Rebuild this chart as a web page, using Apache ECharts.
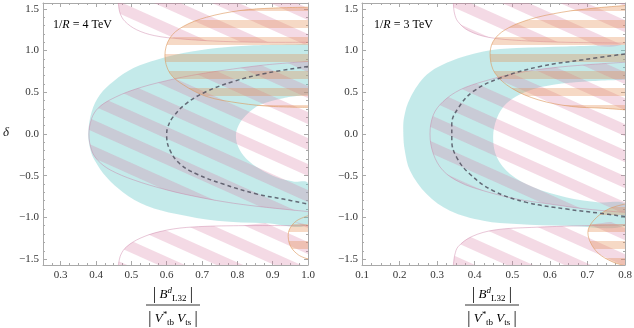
<!DOCTYPE html>
<html>
<head>
<meta charset="utf-8">
<script src="https://cdn.jsdelivr.net/npm/echarts@6.0.0/dist/echarts.min.js"></script>
<style>
html, body { margin: 0; padding: 0; background: #fff; }
#chart { width: 634px; height: 328px; }
</style>
</head>
<body>
<div id="chart"></div>
<script>
// delta runs from -pi/2 to pi/2
const deltaMin = -1.5708, deltaMax = 1.5708;
const yMajor = [-1.5, -1.0, -0.5, 0.0, 0.5, 1.0, 1.5];
const xMajorL = [0.3, 0.4, 0.5, 0.6, 0.7, 0.8, 0.9, 1.0];
const xMajorR = [0.1, 0.2, 0.3, 0.4, 0.5, 0.6, 0.7, 0.8];

// ---- 1/R = 4 TeV (left) ----
const cyanL = [[1.0,1.075],[0.836,1.06],[0.742,1.03],[0.647,0.97],[0.572,0.89],[0.506,0.79],[0.449,0.63],[0.411,0.47],[0.388,0.27],[0.378,0.0],[0.385,-0.2],[0.397,-0.32],[0.43,-0.52],[0.477,-0.7],[0.543,-0.86],[0.628,-0.96],[0.742,-1.04],[0.883,-1.07],[1.0,-1.08],
  [1.0,-0.59],[0.958,-0.57],[0.911,-0.52],[0.864,-0.42],[0.826,-0.3],[0.803,-0.16],[0.796,-0.02],[0.803,0.1],[0.826,0.23],[0.864,0.35],[0.93,0.43],[1.0,0.47]];
const pinkMidL = [[1.0,0.87],[0.883,0.83],[0.789,0.78],[0.694,0.72],[0.6,0.64],[0.506,0.53],[0.44,0.41],[0.406,0.31],[0.388,0.19],[0.38,0.0],[0.388,-0.2],[0.406,-0.32],[0.44,-0.43],[0.506,-0.55],[0.6,-0.67],[0.694,-0.76],[0.789,-0.83],[0.883,-0.88],[1.0,-0.93]];
const pinkTopL = [[0.463,1.58],[0.468,1.45],[0.482,1.35],[0.515,1.25],[0.565,1.18],[0.64,1.14],[0.76,1.11],[0.88,1.1],[1.0,1.1],[1.0,1.58]];
const pinkBotL = [[0.463,-1.58],[0.47,-1.45],[0.487,-1.35],[0.525,-1.25],[0.581,-1.17],[0.657,-1.12],[0.789,-1.1],[1.0,-1.1],[1.0,-1.58]];
const orangeTopL = [[1.0,1.52],[0.902,1.51],[0.807,1.48],[0.713,1.4],[0.647,1.29],[0.609,1.15],[0.595,0.94],[0.609,0.73],[0.647,0.59],[0.713,0.45],[0.807,0.37],[0.902,0.33],[1.0,0.32]];
const orangeBotL = [[1.0,-0.98],[0.968,-1.04],[0.949,-1.13],[0.944,-1.23],[0.951,-1.35],[0.973,-1.45],[1.0,-1.5]];
const dashedL = [[1.0,0.81],[0.883,0.73],[0.789,0.63],[0.713,0.51],[0.657,0.37],[0.619,0.21],[0.603,0.08],[0.6,-0.02],[0.61,-0.2],[0.638,-0.36],[0.685,-0.48],[0.76,-0.6],[0.855,-0.72],[0.93,-0.78],[1.0,-0.84]];

// ---- 1/R = 3 TeV (right) ----
const cyanR = [[0.8,1.07],[0.645,1.05],[0.512,1.03],[0.423,0.99],[0.334,0.87],[0.272,0.71],[0.228,0.43],[0.212,0.2],[0.21,0.0],[0.214,-0.2],[0.228,-0.44],[0.272,-0.72],[0.334,-0.92],[0.423,-1.04],[0.512,-1.08],[0.645,-1.1],[0.8,-1.1],
  [0.8,-0.84],[0.733,-0.82],[0.645,-0.76],[0.556,-0.64],[0.494,-0.48],[0.459,-0.28],[0.449,-0.04],[0.459,0.19],[0.485,0.37],[0.538,0.51],[0.609,0.59],[0.698,0.63],[0.8,0.65]];
const pinkMidR = [[0.8,0.86],[0.698,0.83],[0.6,0.79],[0.512,0.73],[0.423,0.63],[0.361,0.53],[0.316,0.39],[0.29,0.23],[0.281,0.0],[0.29,-0.24],[0.316,-0.44],[0.361,-0.58],[0.423,-0.68],[0.512,-0.78],[0.6,-0.84],[0.698,-0.9],[0.8,-0.94]];
const pinkTopR = [[0.343,1.58],[0.346,1.45],[0.355,1.35],[0.383,1.24],[0.436,1.16],[0.525,1.12],[0.64,1.1],[0.8,1.09],[0.8,1.58]];
const pinkBotR = [[0.343,-1.58],[0.347,-1.45],[0.356,-1.35],[0.392,-1.23],[0.454,-1.15],[0.552,-1.12],[0.685,-1.1],[0.8,-1.09],[0.8,-1.58]];
const orangeTopR = [[0.8,1.54],[0.72,1.51],[0.632,1.46],[0.543,1.37],[0.481,1.25],[0.449,1.11],[0.441,0.93],[0.454,0.73],[0.498,0.55],[0.569,0.41],[0.658,0.33],[0.738,0.31],[0.8,0.29]];
const orangeBotR = [[0.8,-0.84],[0.756,-0.9],[0.72,-1.02],[0.702,-1.15],[0.707,-1.29],[0.729,-1.43],[0.765,-1.53],[0.8,-1.58]];
const dashedR = [[0.8,0.96],[0.689,0.89],[0.574,0.81],[0.467,0.67],[0.396,0.51],[0.356,0.31],[0.339,0.12],[0.339,-0.08],[0.352,-0.28],[0.387,-0.48],[0.449,-0.68],[0.538,-0.82],[0.645,-0.9],[0.733,-0.95],[0.8,-0.99]];

const frame = '#a9a9a9';
const serif = 'Liberation Serif';

function minorTicks(lo, hi, step, majors) {
  const out = [];
  for (let v = lo; v <= hi + 1e-9; v += step) {
    const r = Math.round(v * 1000) / 1000;
    if (!majors.some(m => Math.abs(m - r) < 1e-6)) out.push(r);
  }
  return out;
}
function fmt(v) { return (v < 0 ? '\u2212' : '') + Math.abs(v).toFixed(1); }

// stripe tiles used as fill patterns
function stripeTile(w, h, band, color, diagonal) {
  const c = document.createElement('canvas');
  c.width = w; c.height = h;
  const ctx = c.getContext('2d');
  ctx.fillStyle = color;
  if (!diagonal) {
    ctx.fillRect(0, 3, w, band);
  } else {
    for (let k = -1; k <= 1; k++) {
      ctx.beginPath();
      ctx.moveTo(0, k * h);
      ctx.lineTo(w, k * h + h);
      ctx.lineTo(w, k * h + h + band);
      ctx.lineTo(0, k * h + band);
      ctx.closePath();
      ctx.fill();
    }
  }
  return { image: c, repeat: 'repeat' };
}
const pinkFill = stripeTile(58, 26, 12, 'rgba(215,120,160,0.27)', true);
const orangeFill = stripeTile(8, 17, 8, 'rgba(228,140,80,0.33)', false);
const cyanFill = 'rgba(100,200,200,0.38)';
const pinkLine = 'rgba(200,120,160,0.42)';
const orangeLine = 'rgba(220,150,90,0.6)';

function xAxes(g, min, max, majors) {
  const minors = minorTicks(min, max, 0.025, majors);
  const base = { gridIndex: g, type: 'value', min: min, max: max, splitLine: { show: false } };
  const line = { show: true, onZero: false, lineStyle: { color: frame } };
  return [
    Object.assign({}, base, { position: 'bottom', axisLine: line,
      axisTick: { show: true, inside: true, length: 4, customValues: majors, lineStyle: { color: frame } },
      axisLabel: { show: true, customValues: majors, formatter: fmt, margin: 5, color: '#333', fontFamily: serif, fontSize: 11 } }),
    Object.assign({}, base, { position: 'bottom', axisLine: { show: false, onZero: false },
      axisTick: { show: true, inside: true, length: 2, customValues: minors, lineStyle: { color: frame } }, axisLabel: { show: false } }),
    Object.assign({}, base, { position: 'top', axisLine: line,
      axisTick: { show: true, inside: true, length: 4, customValues: majors, lineStyle: { color: frame } }, axisLabel: { show: false } }),
    Object.assign({}, base, { position: 'top', axisLine: { show: false, onZero: false },
      axisTick: { show: true, inside: true, length: 2, customValues: minors, lineStyle: { color: frame } }, axisLabel: { show: false } })
  ];
}
function yAxes(g) {
  const minors = minorTicks(-1.5, 1.5, 0.1, yMajor);
  const base = { gridIndex: g, type: 'value', min: deltaMin, max: deltaMax, splitLine: { show: false } };
  const line = { show: true, onZero: false, lineStyle: { color: frame } };
  return [
    Object.assign({}, base, { position: 'left', axisLine: line,
      axisTick: { show: true, inside: true, length: 4, customValues: yMajor, lineStyle: { color: frame } },
      axisLabel: { show: true, customValues: yMajor, formatter: fmt, margin: 4, color: '#333', fontFamily: serif, fontSize: 11 } }),
    Object.assign({}, base, { position: 'left', axisLine: { show: false, onZero: false },
      axisTick: { show: true, inside: true, length: 2, customValues: minors, lineStyle: { color: frame } }, axisLabel: { show: false } }),
    Object.assign({}, base, { position: 'right', axisLine: line,
      axisTick: { show: true, inside: true, length: 4, customValues: yMajor, lineStyle: { color: frame } }, axisLabel: { show: false } }),
    Object.assign({}, base, { position: 'right', axisLine: { show: false, onZero: false },
      axisTick: { show: true, inside: true, length: 2, customValues: minors, lineStyle: { color: frame } }, axisLabel: { show: false } })
  ];
}

// one closed region drawn from its boundary points
function region(ax, pts, fill, stroke, nOutline) {
  return {
    type: 'custom', xAxisIndex: ax, yAxisIndex: ax, clip: true, silent: true,
    data: pts,
    renderItem: function (params, api) {
      if (params.dataIndexInside !== 0) return null;
      const p = [];
      for (let i = 0; i < params.dataInsideLength; i++) {
        p.push(api.coord([api.value(0, i), api.value(1, i)]));
      }
      const children = [{ type: 'polyline', shape: { points: p, smooth: 0.35 }, style: { fill: fill, stroke: null } }];
      if (stroke) {
        children.push({ type: 'polyline', shape: { points: p.slice(0, nOutline || p.length), smooth: 0.35 },
          style: { fill: null, stroke: stroke, lineWidth: 1 } });
      }
      return { type: 'group', children: children };
    }
  };
}
function dashed(ax, pts) {
  return { type: 'line', xAxisIndex: ax, yAxisIndex: ax, data: pts, smooth: 0.4, symbol: 'none', silent: true,
    lineStyle: { color: 'rgba(75,75,90,0.8)', width: 1.5, type: [4, 3] } };
}

const chart = echarts.init(document.getElementById('chart'));
const fracRich = {
  p: { fontFamily: serif, fontSize: 16, color: '#222', lineHeight: 17 },
  s: { fontFamily: serif, fontSize: 13, color: '#222', lineHeight: 17 },
  i: { fontFamily: serif, fontSize: 13, fontStyle: 'italic', color: '#222', lineHeight: 17 },
  sup: { fontFamily: serif, fontSize: 9, fontStyle: 'italic', color: '#222', verticalAlign: 'top', lineHeight: 17 },
  sub: { fontFamily: serif, fontSize: 9, color: '#222', verticalAlign: 'bottom', lineHeight: 15 }
};
function fraction(cx) {
  return [
    { type: 'text', x: cx, y: 295, style: { text: '{p||}{s| }{i|B}{sup|d}{sub|L32}{s| }{p||}', rich: fracRich, align: 'center', verticalAlign: 'middle' } },
    { type: 'line', shape: { x1: cx - 27, y1: 305, x2: cx + 27, y2: 305 }, style: { stroke: '#333', lineWidth: 1 } },
    { type: 'text', x: cx, y: 319, style: { text: '{p||}{s| }{i|V}{sup|*}{sub|tb}{s| }{i|V}{sub|ts}{s| }{p||}', rich: fracRich, align: 'center', verticalAlign: 'middle' } }
  ];
}
const tagRich = {
  n: { fontFamily: serif, fontSize: 12, color: '#222' },
  i: { fontFamily: serif, fontSize: 12, fontStyle: 'italic', color: '#222' }
};

chart.setOption({
  animation: false,
  grid: [
    { left: 43, top: 3, width: 265, height: 262, outerBoundsMode: 'none' },
    { left: 362, top: 3, width: 263, height: 262, outerBoundsMode: 'none' }
  ],
  xAxis: xAxes(0, 0.25, 1.0, xMajorL).concat(xAxes(1, 0.1, 0.8, xMajorR)),
  yAxis: yAxes(0).concat(yAxes(1)),
  series: [
    region(0, cyanL, cyanFill, null),
    region(0, pinkTopL, pinkFill, pinkLine, pinkTopL.length - 1),
    region(0, pinkMidL, pinkFill, pinkLine),
    region(0, pinkBotL, pinkFill, pinkLine, pinkBotL.length - 1),
    region(0, orangeTopL, orangeFill, orangeLine),
    region(0, orangeBotL, orangeFill, orangeLine),
    dashed(0, dashedL),
    region(4, cyanR, cyanFill, null),
    region(4, pinkTopR, pinkFill, pinkLine, pinkTopR.length - 1),
    region(4, pinkMidR, pinkFill, pinkLine),
    region(4, pinkBotR, pinkFill, pinkLine, pinkBotR.length - 1),
    region(4, orangeTopR, orangeFill, orangeLine),
    region(4, orangeBotR, orangeFill, orangeLine),
    dashed(4, dashedR)
  ],
  graphic: [
    { type: 'text', x: 3, y: 133, style: { text: '\u03b4', fontFamily: serif, fontSize: 13, fontStyle: 'italic', fill: '#222', verticalAlign: 'middle' } },
    { type: 'text', x: 53, y: 25, style: { text: '{n|1/}{i|R}{n| = 4 TeV}', rich: tagRich, verticalAlign: 'middle' } },
    { type: 'text', x: 374, y: 25, style: { text: '{n|1/}{i|R}{n| = 3 TeV}', rich: tagRich, verticalAlign: 'middle' } }
  ].concat(fraction(173), fraction(492))
});
</script>
</body>
</html>
